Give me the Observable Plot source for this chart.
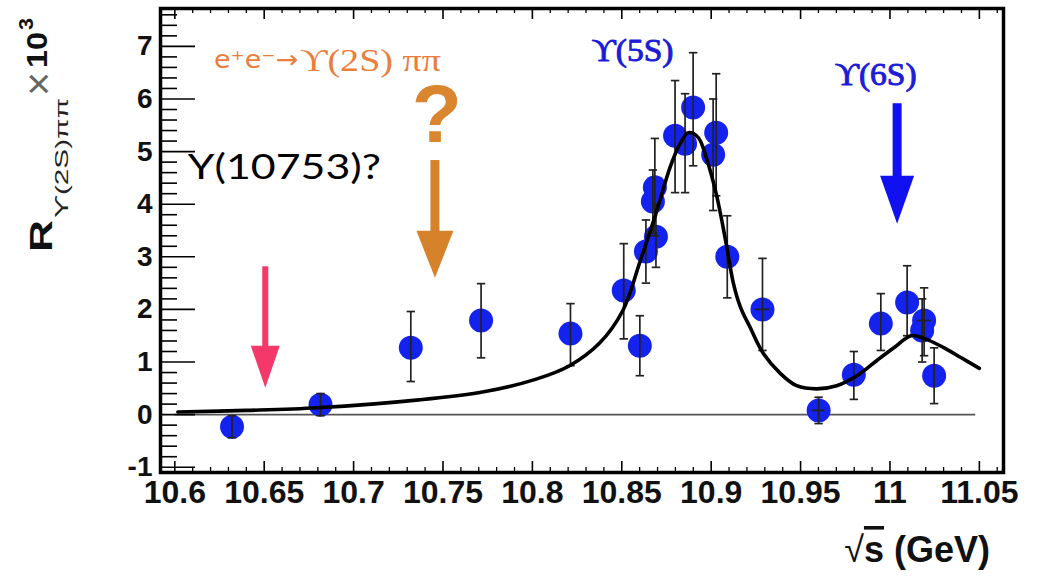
<!DOCTYPE html>
<html><head><meta charset="utf-8">
<script src="https://cdn.jsdelivr.net/npm/d3@7"></script>
<script src="https://cdn.jsdelivr.net/npm/@observablehq/plot@0.6"></script>
<style>
body{margin:0;background:#fff;}
#chart{position:relative;width:1037px;height:576px;}
</style>
</head><body><div id="chart"></div>
<script>
// ---- measured data (√s in GeV, R x 10^3) ----
const energy   = [10.632, 10.6815, 10.732, 10.7713, 10.8213, 10.8511, 10.8601, 10.8635, 10.8691, 10.8674, 10.8685, 10.8798, 10.8854, 10.8899, 10.9028, 10.9011, 10.9090, 10.9287, 10.9601, 10.9798, 10.9949, 11.0096, 11.0191, 11.0180, 11.0247];
const ratio    = [-0.23, 0.19, 1.27, 1.79, 1.54, 2.36, 1.31, 3.10, 3.38, 4.05, 4.32, 5.30, 5.15, 5.84, 5.36, 4.94, 3.00, 2.00, 0.08, 0.76, 1.73, 2.13, 1.79, 1.60, 0.74];
const errLow   = [-0.44, -0.02, 0.63, 1.08, 0.93, 1.44, 0.74, 2.50, 2.80, 3.45, 3.40, 4.22, 4.22, 4.73, 4.16, 3.88, 2.22, 1.22, -0.17, 0.29, 1.22, 1.50, 1.12, 1.00, 0.21];
const errHigh  = [-0.02, 0.40, 1.96, 2.49, 2.11, 3.25, 1.88, 3.70, 4.00, 4.65, 5.25, 6.35, 6.10, 6.88, 6.48, 6.00, 3.78, 2.97, 0.33, 1.20, 2.30, 2.83, 2.41, 2.20, 1.27];
const energyErr= [0, 0, 0, 0, 0, 0, 0, 0, 0, 0, 0, 0, 0, 0, 0, 0, 0, 0.004, 0.0035, 0, 0, 0, 0.004, 0, 0];

// ---- fit curve ----
const fitEnergy = [10.6017, 10.640, 10.680, 10.7365, 10.7736, 10.8017, 10.8208, 10.8376, 10.8506, 10.8601, 10.8691, 10.8770, 10.8826, 10.8871, 10.8927, 10.8972, 10.9028, 10.9084, 10.9124, 10.9163, 10.9219, 10.9292, 10.9388, 10.9478, 10.9590, 10.9702, 10.9815, 10.9927, 11.0022, 11.0118, 11.0191, 11.0303, 11.0399, 11.0500];
const fitRatio  = [0.05, 0.08, 0.13, 0.28, 0.44, 0.67, 0.93, 1.36, 1.98, 2.90, 3.82, 4.70, 5.15, 5.36, 5.27, 4.89, 4.20, 3.25, 2.50, 2.05, 1.65, 1.16, 0.78, 0.55, 0.49, 0.55, 0.74, 1.03, 1.27, 1.50, 1.45, 1.27, 1.08, 0.88];

// ---- axes ----
const xTickValues = [10.6, 10.65, 10.7, 10.75, 10.8, 10.85, 10.9, 10.95, 11.0, 11.05];
const xTickLabels = ["10.6", "10.65", "10.7", "10.75", "10.8", "10.85", "10.9", "10.95", "11", "11.05"];
const yTickValues = [-1, 0, 1, 2, 3, 4, 5, 6, 7];
const yTickLabels = ["-1", "0", "1", "2", "3", "4", "5", "6", "7"];
const xDomain = [10.592, 11.0635];
const yDomain = [-1.10, 7.72];

// ---- annotations ----
const zeroLine = [{y: 0, x1: 10.6, x2: 11.048}];
const labelTexts = [
  {x: 10.6219, y: 6.75, text: "e⁺e⁻→", color: "#ec7d3b", font: "DejaVu Sans", size: 25, weight: "normal", anchor: "start", len: 84},
  {x: 10.6700, y: 6.73, text: "ϒ(2S) ππ", color: "#ec7d3b", font: "Liberation Serif", size: 31, weight: "normal", anchor: "start", len: 141},
  {x: 10.7466, y: 5.68, text: "?", color: "#d9862e", font: "Liberation Sans", size: 82, weight: "bold", anchor: "middle", len: 0},
  {x: 10.6073, y: 4.70, text: "Y(10753)?", color: "#000000", font: "Lato", size: 35, weight: "normal", anchor: "start", len: 193},
  {x: 10.8560, y: 6.92, text: "ϒ(5S)", color: "#1c1cd8", font: "Liberation Serif", size: 31, weight: "normal", anchor: "middle", len: 82},
  {x: 10.9920, y: 6.46, text: "ϒ(6S)", color: "#1c1cd8", font: "Liberation Serif", size: 31, weight: "normal", anchor: "middle", len: 82}
];
const arrowShafts = [
  {x: 10.7455, top: 4.83, base: 3.30, color: "#d6822a", width: 9},
  {x: 10.6506, top: 2.81, base: 1.20, color: "#f5386a", width: 6},
  {x: 11.0040, top: 5.91, base: 4.40, color: "#1010f0", width: 9}
];
const arrowHeads = [
  {x: 10.7455, tip: 2.60, color: "#d6822a", half: 18.5, aspect: 1.27},
  {x: 10.6506, tip: 0.51, color: "#f5386a", half: 14.5, aspect: 1.45},
  {x: 11.0040, tip: 3.63, color: "#1010f0", half: 17, aspect: 1.41}
];

const W = 1037, H = 576, mL = 160, mR = 34, mT = 8, mB = 104;
const innerW = W - mL - mR, innerH = H - mT - mB;

const points = energy.map((x, i) => ({x, y: ratio[i], lo: errLow[i], hi: errHigh[i], dx: energyErr[i]}));
const fit = fitEnergy.map((x, i) => ({x, y: fitRatio[i]}));
const xErrPts = points.filter(d => d.dx > 0);

const xMinor = d3.range(1060, 1107).map(v => v / 100).filter(v => Math.abs(v * 20 - Math.round(v * 20)) > 1e-6);
const yMinor = d3.range(-5, 39).map(v => v / 5).filter(v => Math.abs(v - Math.round(v)) > 1e-6);

function headSymbol(aspect) {
  return {draw(ctx, size) {
    const r = Math.sqrt(size / Math.PI), h = aspect * 2 * r;
    ctx.moveTo(0, 0); ctx.lineTo(-r, -h); ctx.lineTo(r, -h); ctx.closePath();
  }};
}
const capSymbol = {draw(ctx, size) {
  const r = Math.sqrt(size / Math.PI);
  ctx.moveTo(-r, 0); ctx.lineTo(r, 0);
}};

const marks = [
  Plot.ruleY(zeroLine, {y: "y", x1: "x1", x2: "x2", stroke: "#555", strokeWidth: 1.6}),
  // inward tick marks
  Plot.ruleX(xTickValues, {insetTop: innerH - 11, stroke: "#000", strokeWidth: 1.6}),
  Plot.ruleX(xMinor, {insetTop: innerH - 5, stroke: "#000", strokeWidth: 1.3}),
  Plot.ruleX(xTickValues, {insetBottom: innerH - 11, stroke: "#000", strokeWidth: 1.6}),
  Plot.ruleX(xMinor, {insetBottom: innerH - 5, stroke: "#000", strokeWidth: 1.3}),
  Plot.ruleY(yTickValues, {insetRight: innerW - 35, stroke: "#000", strokeWidth: 1.6}),
  Plot.ruleY(yMinor, {insetRight: innerW - 17, stroke: "#000", strokeWidth: 1.6}),
  Plot.axisX(xTickValues, {anchor: "bottom", tickSize: 0, tickPadding: 8, label: null,
    tickFormat: d => xTickLabels[xTickValues.indexOf(d)],
    fontSize: 32, fontWeight: "bold", fontFamily: "Liberation Sans, Arial, sans-serif", fill: "#111"}),
  Plot.axisY(yTickValues, {anchor: "left", tickSize: 0, tickPadding: 8, label: null,
    tickFormat: d => yTickLabels[yTickValues.indexOf(d)],
    fontSize: 28, fontWeight: "bold", fontFamily: "Liberation Sans, Arial, sans-serif", fill: "#111"}),
  // data
  Plot.dot(points, {x: "x", y: "y", r: 12, fill: "#1422ee", stroke: "none"}),
  Plot.ruleX(points, {x: "x", y1: "lo", y2: "hi", stroke: "#222", strokeWidth: 1.7}),
  Plot.ruleY(xErrPts, {y: "y", x1: d => d.x - d.dx, x2: d => d.x + d.dx, stroke: "#222", strokeWidth: 1.7}),
  Plot.dot(points, {x: "x", y: "hi", r: 4.2, symbol: capSymbol, fill: "none", stroke: "#222", strokeWidth: 1.7}),
  Plot.dot(points, {x: "x", y: "lo", r: 4.2, symbol: capSymbol, fill: "none", stroke: "#222", strokeWidth: 1.7}),
  Plot.line(fit, {x: "x", y: "y", curve: "catmull-rom", stroke: "#000", strokeWidth: 3.6}),
  // annotations
  ...arrowShafts.map(a => Plot.ruleX([a], {x: "x", y1: "top", y2: "base", stroke: a.color, strokeWidth: a.width})),
  ...arrowHeads.map(a => Plot.dot([a], {x: "x", y: "tip", r: a.half, symbol: headSymbol(a.aspect), fill: a.color, stroke: "none"})),
  ...labelTexts.map(t => Plot.text([t], {x: "x", y: "y", text: "text", fill: t.color, fontSize: t.size,
    fontFamily: t.font, fontWeight: t.weight, textAnchor: t.anchor,
    stroke: t.color === "#1c1cd8" ? t.color : "none", strokeWidth: 0.9})),
  Plot.frame({stroke: "#000", strokeWidth: 3.5})
];

const plot = Plot.plot({
  width: W, height: H,
  marginLeft: mL, marginRight: mR, marginTop: mT, marginBottom: mB,
  x: {domain: xDomain, axis: null},
  y: {domain: yDomain, axis: null},
  style: {background: "#fff", overflow: "visible"},
  marks
});
document.getElementById("chart").appendChild(plot);

const svg = d3.select(plot);
svg.selectAll("circle").style("filter", "blur(0.6px)");

// stretch annotation texts to the widths seen in the picture
svg.selectAll("text").each(function() {
  const t = labelTexts.find(l => l.text === this.textContent && l.len > 0);
  if (t) d3.select(this).attr("textLength", t.len).attr("lengthAdjust", "spacingAndGlyphs");
});

// y-axis title (rotated) with subscript and superscript
function rotText(x, y, str, size, weight, fill, len) {
  const t = svg.append("text")
    .attr("transform", `translate(${x},${y}) rotate(-90)`)
    .attr("text-anchor", "start")
    .attr("font-family", "Liberation Sans, Arial, sans-serif")
    .attr("font-size", size).attr("font-weight", weight).attr("fill", fill)
    .text(str);
  if (len) t.attr("textLength", len).attr("lengthAdjust", "spacingAndGlyphs");
  return t;
}
rotText(52, 252, "R", 32, "bold", "#111", 32);
rotText(68, 218, "ϒ(2S)ππ", 19, "normal", "#222", 120);
rotText(53, 96, "×", 42, "normal", "#666", 24);
rotText(47, 68, "10", 30, "bold", "#111", 36);
rotText(33, 30, "3", 20, "bold", "#111", 12);

// x-axis title
const xl = svg.append("text")
  .attr("x", 990).attr("y", 562)
  .attr("text-anchor", "end")
  .attr("font-family", "Liberation Sans, Arial, sans-serif")
  .attr("font-size", 36).attr("font-weight", "bold").attr("fill", "#111");
xl.append("tspan").attr("font-weight", "normal").text("√");
xl.append("tspan").style("text-decoration", "overline").text("s");
xl.append("tspan").text(" (GeV)");
</script>
</body></html>
